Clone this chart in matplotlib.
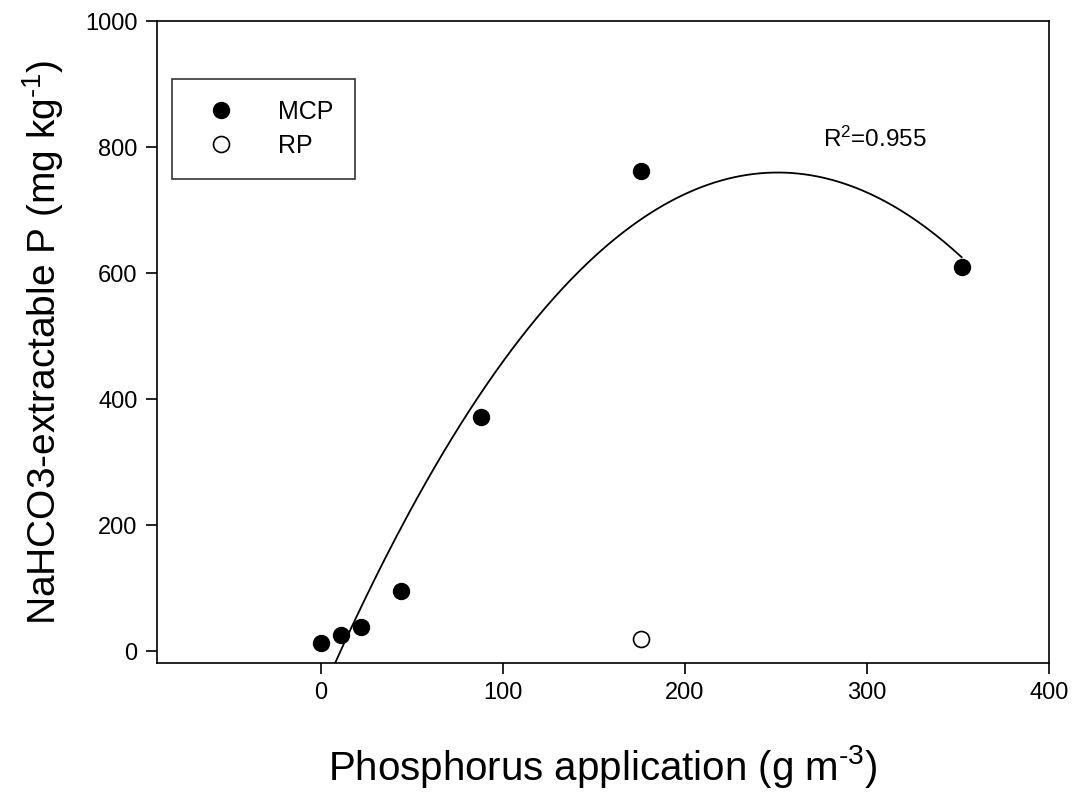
import numpy as np
import matplotlib
matplotlib.use("Agg")
import matplotlib.pyplot as plt
from matplotlib.lines import Line2D

plt.rcParams['font.family'] = ['Liberation Sans', 'DejaVu Sans']
plt.rcParams['mathtext.fontset'] = 'custom'
plt.rcParams['mathtext.rm'] = 'Liberation Sans'
plt.rcParams['mathtext.default'] = 'regular'

# data
mcp_x = [0, 11, 22, 44, 88, 176, 352]
mcp_y = [13, 26, 38, 95, 372, 762, 610]
rp_x = [176]
rp_y = [19]
x_ticks = [0, 100, 200, 300, 400]
y_ticks = [0, 200, 400, 600, 800, 1000]
r2_label = '$R^{2}$=0.955'

fig = plt.figure(figsize=(10.77, 7.96), dpi=100)
ax = fig.add_axes([0.1458, 0.1671, 0.8282, 0.8065])

# quadratic fit of the MCP series
coef = np.polyfit(mcp_x, mcp_y, 2)
xs = np.linspace(0, max(mcp_x), 300)
ax.plot(xs, np.polyval(coef, xs), color='black', lw=1.3, zorder=2)

ax.plot(mcp_x, mcp_y, 'o', color='black', ms=11.5, zorder=3, clip_on=False)
ax.plot(rp_x, rp_y, 'o', mfc='white', mec='black', mew=1.2, ms=11.5, zorder=3)

ax.set_xlim(-90, 400)
ax.set_ylim(-19, 1000)
ax.set_xticks(x_ticks)
ax.set_yticks(y_ticks)
ax.tick_params(direction='out', length=8, width=1.2, labelsize=17, pad=6)
for s in ax.spines.values():
    s.set_linewidth(1.2)

ax.set_xlabel(r'Phosphorus application (g m$^{\text{-}3}$)', fontsize=29, labelpad=28)
ax.set_ylabel(r'NaHCO3-extractable P (mg kg$^{\text{-}1}$)', fontsize=28, labelpad=14)

ax.text(276, 800, r2_label, fontsize=17.5)

handles = [
    Line2D([], [], ls='none', marker='o', color='black', ms=11.5),
    Line2D([], [], ls='none', marker='o', mfc='white', mec='black', mew=1.2, ms=11.5),
]
leg = ax.legend(handles, ['MCP', 'RP'], loc='upper left', bbox_to_anchor=(0.0168, 0.9097),
                borderaxespad=0, fontsize=18, frameon=True, fancybox=False,
                borderpad=0.85, labelspacing=0.4, handlelength=2.2, handletextpad=1.2)
leg.get_frame().set_edgecolor('black')
leg.get_frame().set_linewidth(1.2)

fig.savefig('out.png', dpi=100)
